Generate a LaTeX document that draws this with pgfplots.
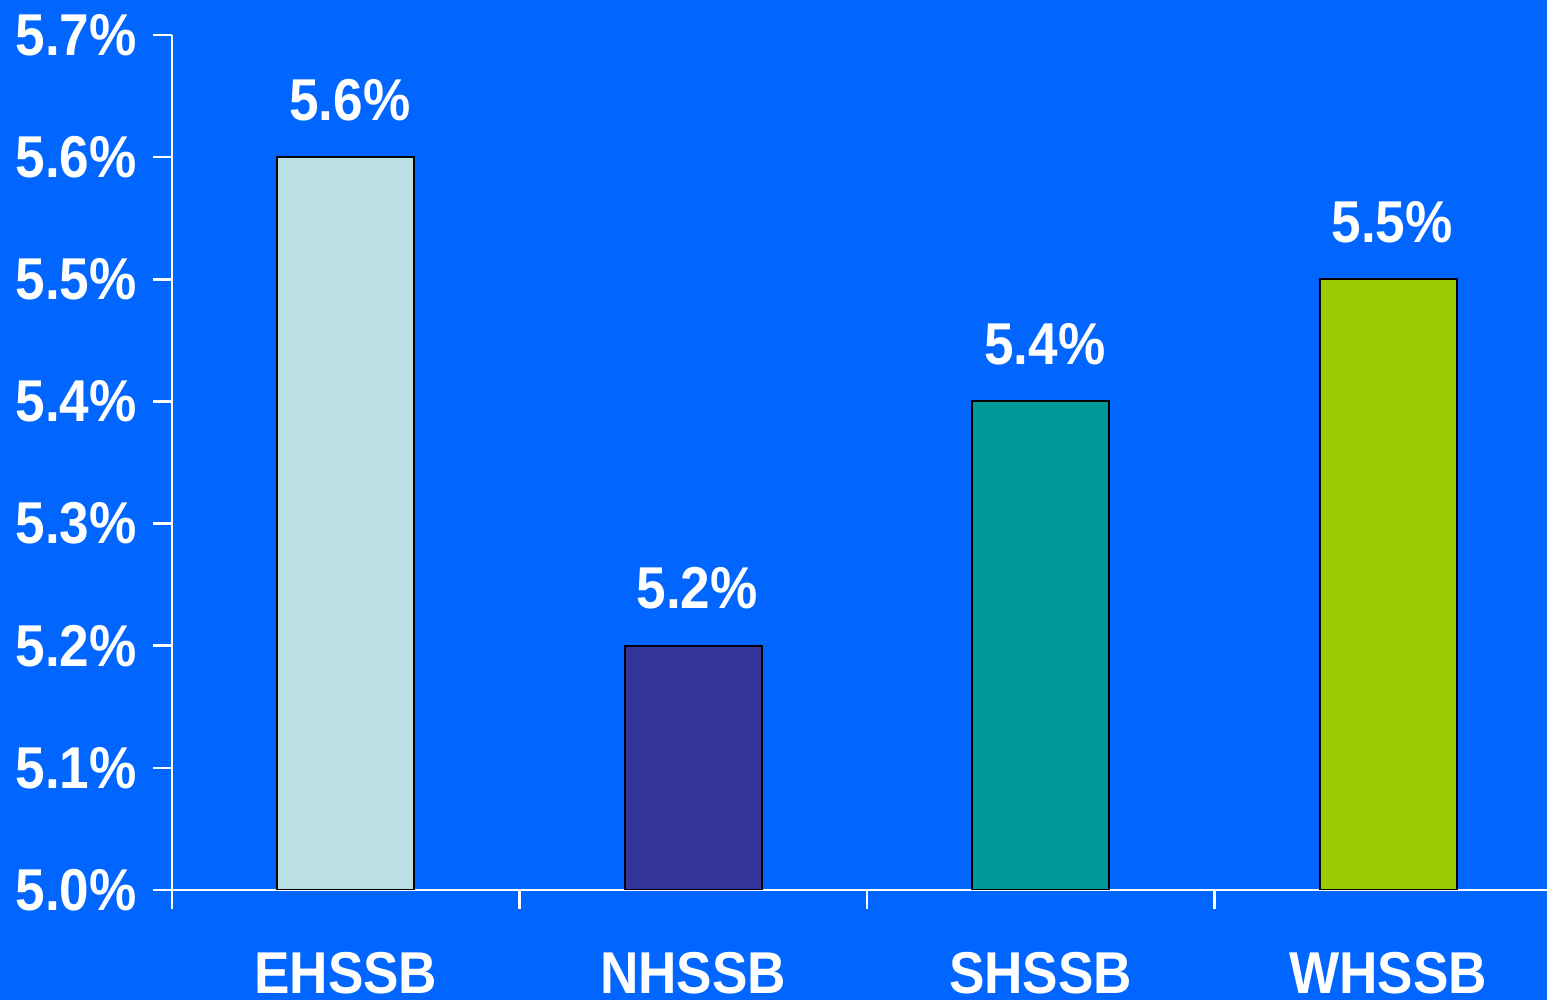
\documentclass[border=0pt]{standalone}
\usepackage{pgfplots}
\pgfplotsset{compat=1.18}
\usepackage{fontspec}
\setmainfont{Liberation Sans}[FakeStretch=0.9]
\definecolor{bg}{HTML}{0066FF}
\definecolor{c1}{HTML}{BBE0E3}
\definecolor{c2}{HTML}{333399}
\definecolor{c3}{HTML}{009999}
\definecolor{c4}{HTML}{99CC00}
\newcommand{\lbl}{\fontsize{16.8}{20}\selectfont\bfseries}
\begin{document}
\begin{tikzpicture}
\fill[bg] (0,0) rectangle (15.47cm,10cm);
\useasboundingbox (0,0) rectangle (15.47cm,10cm);
\begin{axis}[
  at={(1.72cm,1.10cm)}, anchor=south west,
  scale only axis, width=13.75cm, height=8.55cm,
  xmin=-0.5, xmax=3.457, ymin=5.0, ymax=5.7,
  axis x line=bottom, axis y line=left,
  axis line style={white, line width=0.7pt, -},
  ybar, bar width=0.395, bar shift=0pt,
  ytick={5.0,5.1,5.2,5.3,5.4,5.5,5.6,5.7},
  yticklabels={5.0\%,5.1\%,5.2\%,5.3\%,5.4\%,5.5\%,5.6\%,5.7\%},
  yticklabel style={xshift=-0.4mm},
  xtick={-0.5,0.5,1.5,2.5}, xticklabels={},
  extra x ticks={0,1,2,3},
  extra x tick labels={EHSSB,NHSSB,SHSSB,WHSSB},
  extra x tick style={major tick length=0pt, tick label style={anchor=base, yshift=-10.4mm}},
  tick align=outside, major tick length=1.9mm,
  tick style={white, line width=0.7pt},
  ticklabel style={font=\lbl, text=white},
  point meta=explicit symbolic,
  nodes near coords,
  every node near coord/.append style={font=\lbl, text=white, anchor=base, yshift=3.7mm, xshift=0.4mm, inner sep=0pt},
]
\addplot[fill=c1, draw=black, line width=0.6pt] coordinates {(0,5.6) [5.6\%]};
\addplot[fill=c2, draw=black, line width=0.6pt] coordinates {(1,5.2) [5.2\%]};
\addplot[fill=c3, draw=black, line width=0.6pt] coordinates {(2,5.4) [5.4\%]};
\addplot[fill=c4, draw=black, line width=0.6pt] coordinates {(3,5.5) [5.5\%]};
\end{axis}
\end{tikzpicture}
\end{document}
